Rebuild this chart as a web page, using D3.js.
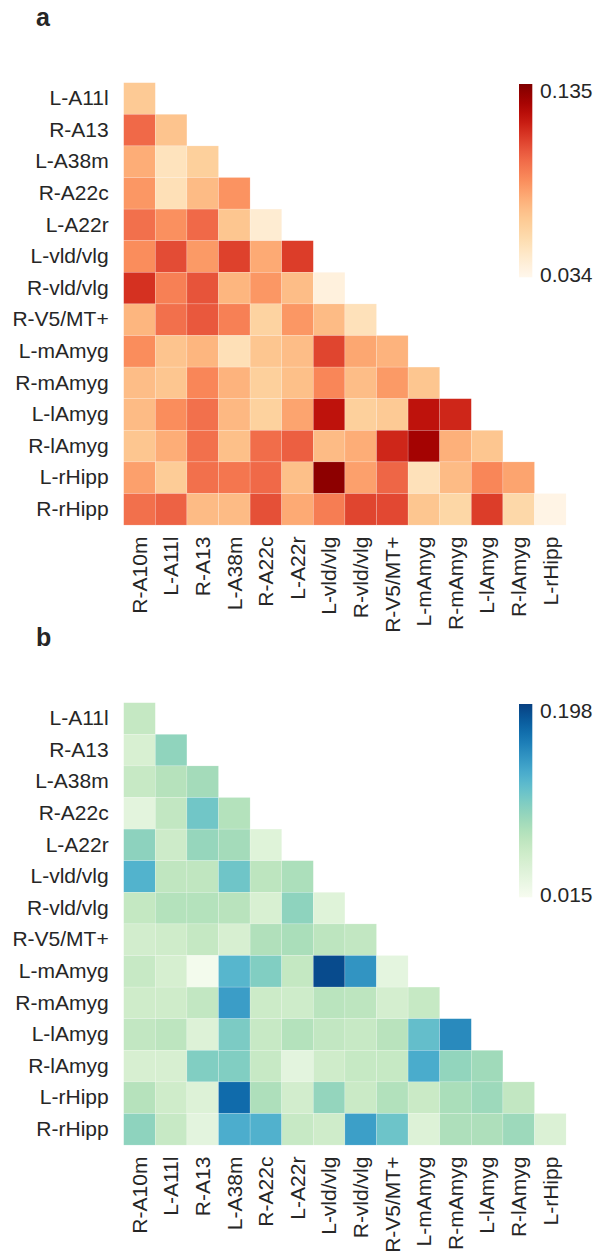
<!DOCTYPE html>
<html>
<head>
<meta charset="utf-8">
<script src="https://cdn.jsdelivr.net/npm/d3@7"></script>
<style>
  body { margin: 0; background: #fff; }
  svg { display: block; }
  text { font-family: "Liberation Sans", Arial, Helvetica, sans-serif; fill: #262626; }
</style>
</head>
<body>
<svg id="chart" width="598" height="1257"></svg>
<script>
//  labels
const row_labels = ["L-A11l", "R-A13", "L-A38m", "R-A22c", "L-A22r", "L-vld/vlg", "R-vld/vlg",
                    "R-V5/MT+", "L-mAmyg", "R-mAmyg", "L-lAmyg", "R-lAmyg", "L-rHipp", "R-rHipp"];
const col_labels = ["R-A10m", "L-A11l", "R-A13", "L-A38m", "R-A22c", "L-A22r", "L-vld/vlg",
                    "R-vld/vlg", "R-V5/MT+", "L-mAmyg", "R-mAmyg", "L-lAmyg", "R-lAmyg", "L-rHipp"];

//  panel a values (lower triangle, row by row)
const values_a = [
  [0.064],
  [0.097, 0.067],
  [0.076, 0.049, 0.061],
  [0.083, 0.051, 0.071, 0.084],
  [0.095, 0.085, 0.097, 0.066, 0.042],
  [0.086, 0.105, 0.082, 0.108, 0.077, 0.109],
  [0.112, 0.090, 0.103, 0.073, 0.083, 0.070, 0.038],
  [0.073, 0.095, 0.102, 0.090, 0.059, 0.083, 0.071, 0.050],
  [0.086, 0.067, 0.073, 0.051, 0.066, 0.070, 0.107, 0.078, 0.074],
  [0.070, 0.066, 0.088, 0.074, 0.061, 0.069, 0.088, 0.070, 0.082, 0.066],
  [0.071, 0.086, 0.095, 0.072, 0.060, 0.079, 0.121, 0.061, 0.064, 0.121, 0.115],
  [0.066, 0.076, 0.095, 0.069, 0.096, 0.100, 0.071, 0.076, 0.115, 0.129, 0.075, 0.066],
  [0.080, 0.063, 0.095, 0.093, 0.097, 0.069, 0.135, 0.080, 0.098, 0.050, 0.071, 0.088, 0.079],
  [0.095, 0.099, 0.071, 0.071, 0.104, 0.077, 0.091, 0.107, 0.106, 0.066, 0.057, 0.109, 0.056, 0.035]
];

//  panel b values
const values_b = [
  [0.064],
  [0.046, 0.097],
  [0.062, 0.075, 0.086],
  [0.034, 0.066, 0.114, 0.076],
  [0.099, 0.057, 0.094, 0.086, 0.038],
  [0.131, 0.068, 0.068, 0.115, 0.070, 0.081],
  [0.065, 0.076, 0.076, 0.073, 0.046, 0.098, 0.038],
  [0.052, 0.055, 0.064, 0.047, 0.078, 0.082, 0.070, 0.066],
  [0.062, 0.048, 0.016, 0.128, 0.105, 0.065, 0.198, 0.152, 0.032],
  [0.055, 0.055, 0.066, 0.146, 0.058, 0.056, 0.072, 0.070, 0.050, 0.063],
  [0.066, 0.070, 0.040, 0.108, 0.062, 0.076, 0.066, 0.062, 0.073, 0.121, 0.158],
  [0.047, 0.047, 0.105, 0.105, 0.062, 0.033, 0.055, 0.063, 0.063, 0.136, 0.096, 0.088],
  [0.075, 0.055, 0.040, 0.178, 0.080, 0.052, 0.095, 0.060, 0.077, 0.060, 0.082, 0.090, 0.066],
  [0.098, 0.062, 0.033, 0.135, 0.132, 0.062, 0.055, 0.145, 0.116, 0.040, 0.080, 0.080, 0.090, 0.043]
];

//  colour ranges and colorbar tick labels
const domain_a = [0.0325, 0.1387];
const domain_b = [0.0122, 0.2047];
const ticks_a = [0.034, 0.135];
const ticks_b = [0.015, 0.198];

const svg = d3.select("#chart");
const grid_left = 123.7;
const grid_size = 442.4;
const font_size = 21;

//  draw one triangular heatmap panel
function draw_panel(id, letter, top, values, domain, ticks, interpolator) {
  const g = svg.append("g").attr("id", id);

  const x = d3.scaleBand().domain(col_labels).range([grid_left, grid_left + grid_size]);
  const y = d3.scaleBand().domain(row_labels).range([top, top + grid_size]);
  const color = d3.scaleSequential(interpolator).domain(domain);

  //  flatten lower triangle
  const cells = [];
  values.forEach((row, i) => {
    row.forEach((v, j) => cells.push({row: row_labels[i], col: col_labels[j], value: v}));
  });

  g.append("g")
    .selectAll("rect")
    .data(cells)
    .join("rect")
      .attr("x", d => x(d.col))
      .attr("y", d => y(d.row))
      .attr("width", x.bandwidth())
      .attr("height", y.bandwidth())
      .attr("fill", d => color(d.value))
      .attr("stroke", "#ffffff")
      .attr("stroke-opacity", 0.35)
      .attr("stroke-width", 0.5);

  //  row labels
  const yAxis = g.append("g")
    .attr("transform", `translate(${grid_left},0)`)
    .call(d3.axisLeft(y).tickSize(0).tickPadding(15));
  yAxis.select(".domain").remove();
  yAxis.selectAll("text")
    .style("font-size", font_size + "px")
    .style("font-family", null)
    .attr("fill", "#262626");

  //  column labels
  const xAxis = g.append("g")
    .attr("transform", `translate(0,${top + grid_size})`)
    .call(d3.axisBottom(x).tickSize(0).tickPadding(0));
  xAxis.select(".domain").remove();
  xAxis.selectAll("text")
    .style("font-size", font_size + "px")
    .style("font-family", null)
    .attr("fill", "#262626")
    .attr("text-anchor", "end")
    .attr("dy", "0.35em")
    .attr("transform", "translate(0,11.5) rotate(-90)")
    .attr("x", 0)
    .attr("y", 0);

  //  colorbar
  const cb_x = 519, cb_w = 13.3, cb_top = top + 1.3, cb_h = 193.3;
  const cb_scale = d3.scaleLinear().domain(domain).range([cb_top + cb_h, cb_top]);
  const grad = svg.append("defs").append("linearGradient")
    .attr("id", "grad-" + id)
    .attr("x1", 0).attr("y1", 1).attr("x2", 0).attr("y2", 0);
  d3.range(0, 1.0001, 0.05).forEach(t => {
    grad.append("stop")
      .attr("offset", t)
      .attr("stop-color", interpolator(t));
  });
  g.append("rect")
    .attr("x", cb_x)
    .attr("y", cb_top)
    .attr("width", cb_w)
    .attr("height", cb_h)
    .attr("fill", `url(#grad-${id})`);

  g.append("g")
    .selectAll("text")
    .data(ticks)
    .join("text")
      .attr("x", 540)
      .attr("y", d => cb_scale(d))
      .attr("dy", "0.35em")
      .style("font-size", font_size + "px")
      .text(d => d3.format(".3f")(d));

  //  panel letter
  g.append("text")
    .attr("x", 36)
    .attr("y", top - 56.5)
    .style("font-size", "25px")
    .style("font-weight", "bold")
    .text(letter);
}

draw_panel("panel_a", "a", 82.7, values_a, domain_a, ticks_a, d3.interpolateOrRd);
draw_panel("panel_b", "b", 702.7, values_b, domain_b, ticks_b, d3.interpolateGnBu);
</script>
</body>
</html>
